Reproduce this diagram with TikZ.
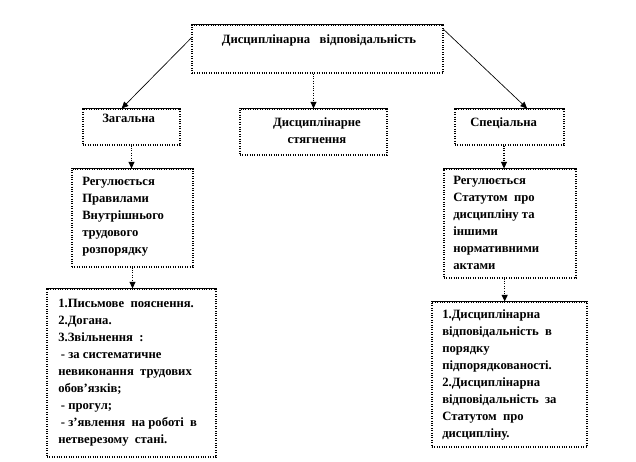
\documentclass[tikz,border=0pt]{standalone}
\usepackage{fontspec}
\setmainfont{Liberation Serif}
\usetikzlibrary{arrows.meta,calc,fit}
\begin{document}
\begin{tikzpicture}[x=0.75pt,y=-0.75pt,
  box/.style={draw, densely dotted, line width=0.8pt, rectangle, inner sep=0pt},
  txt/.style={font=\fontsize{9.5}{12.75}\selectfont\bfseries, inner sep=0pt, align=left, anchor=north west},
  solidarrow/.style={line width=0.5pt, -{Triangle[length=5pt,width=4.5pt]}},
  dotarrow/.style={line width=0.8pt, densely dotted, -{Triangle[length=5pt,width=4.5pt]}}]
\useasboundingbox[fill=white] (0,0) rectangle (636,461);
% boxes
\node[box, fit={(192,25) (443,73)}] (top) {};
\node[box, fit={(83,109) (180,145)}] (zag) {};
\node[box, fit={(240,109) (387,155)}] (mid) {};
\node[box, fit={(455,109) (564,145)}] (spec) {};
\node[box, fit={(72,169) (193,267)}] (lb2) {};
\node[box, fit={(444,169) (576,278)}] (rb2) {};
\node[box, fit={(47,289) (216,457)}] (lb3) {};
\node[box, fit={(432,302) (587,447)}] (rb3) {};
\foreach \n in {top,zag,mid,spec,lb2,rb2,lb3,rb3}
  \draw[line width=0.7pt] (\n.north west) -- (\n.north east);
% texts
\node[txt, anchor=north] (ttop) at (319,34) {Дисциплінарна~~~відповідальність};
\node[txt] (tzag) at (102,114) {Загальна};
\node[txt, anchor=north, align=center] (tmid) at (317,117) {Дисциплінарне\\стягнення};
\node[txt] (tspec) at (470,117) {Спеціальна};
\node[txt] (tlb2) at (82,177) {Регулюється\\Правилами\\Внутрішнього\\трудового\\розпорядку};
\node[txt] (trb2) at (453,176) {Регулюється\\Статутом~~про\\дисципліну та\\іншими\\нормативними\\актами};
\node[txt] (tlb3) at (58,299) {1.Письмове~~пояснення.\\2.Догана.\\3.Звільнення~~:\\\hspace*{2pt}- за систематичне\\невиконання~~трудових\\обов’язків;\\\hspace*{2pt}- прогул;\\\hspace*{2pt}- з’явлення~~на роботі~~в\\нетверезому~~стані.};
\node[txt] (trb3) at (442,309) {1.Дисциплінарна\\відповідальність~~в\\порядку\\підпорядкованості.\\2.Дисциплінарна\\відповідальність~~за\\Статутом~~про\\дисципліну.};
% connectors
\draw[solidarrow] ($(top.north west)!0.27!(top.south west)$) -- ($(zag.north west)!0.4!(zag.north east)$);
\draw[solidarrow] ($(top.north east)!0.1!(top.south east)$) -- ($(spec.north west)!0.66!(spec.north east)$);
\draw[dotarrow] (mid.north |- top.south) -- (mid.north);
\draw[dotarrow] (zag.south) -- (zag.south |- lb2.north);
\draw[dotarrow] (lb2.south) -- (lb2.south |- lb3.north);
\coordinate (s1) at ($(spec.south west)!0.45!(spec.south east)$);
\draw[dotarrow] (s1) -- (s1 |- rb2.north);
\coordinate (s2) at ($(rb2.south west)!0.46!(rb2.south east)$);
\draw[dotarrow] (s2) -- (s2 |- rb3.north);
\end{tikzpicture}
\end{document}
